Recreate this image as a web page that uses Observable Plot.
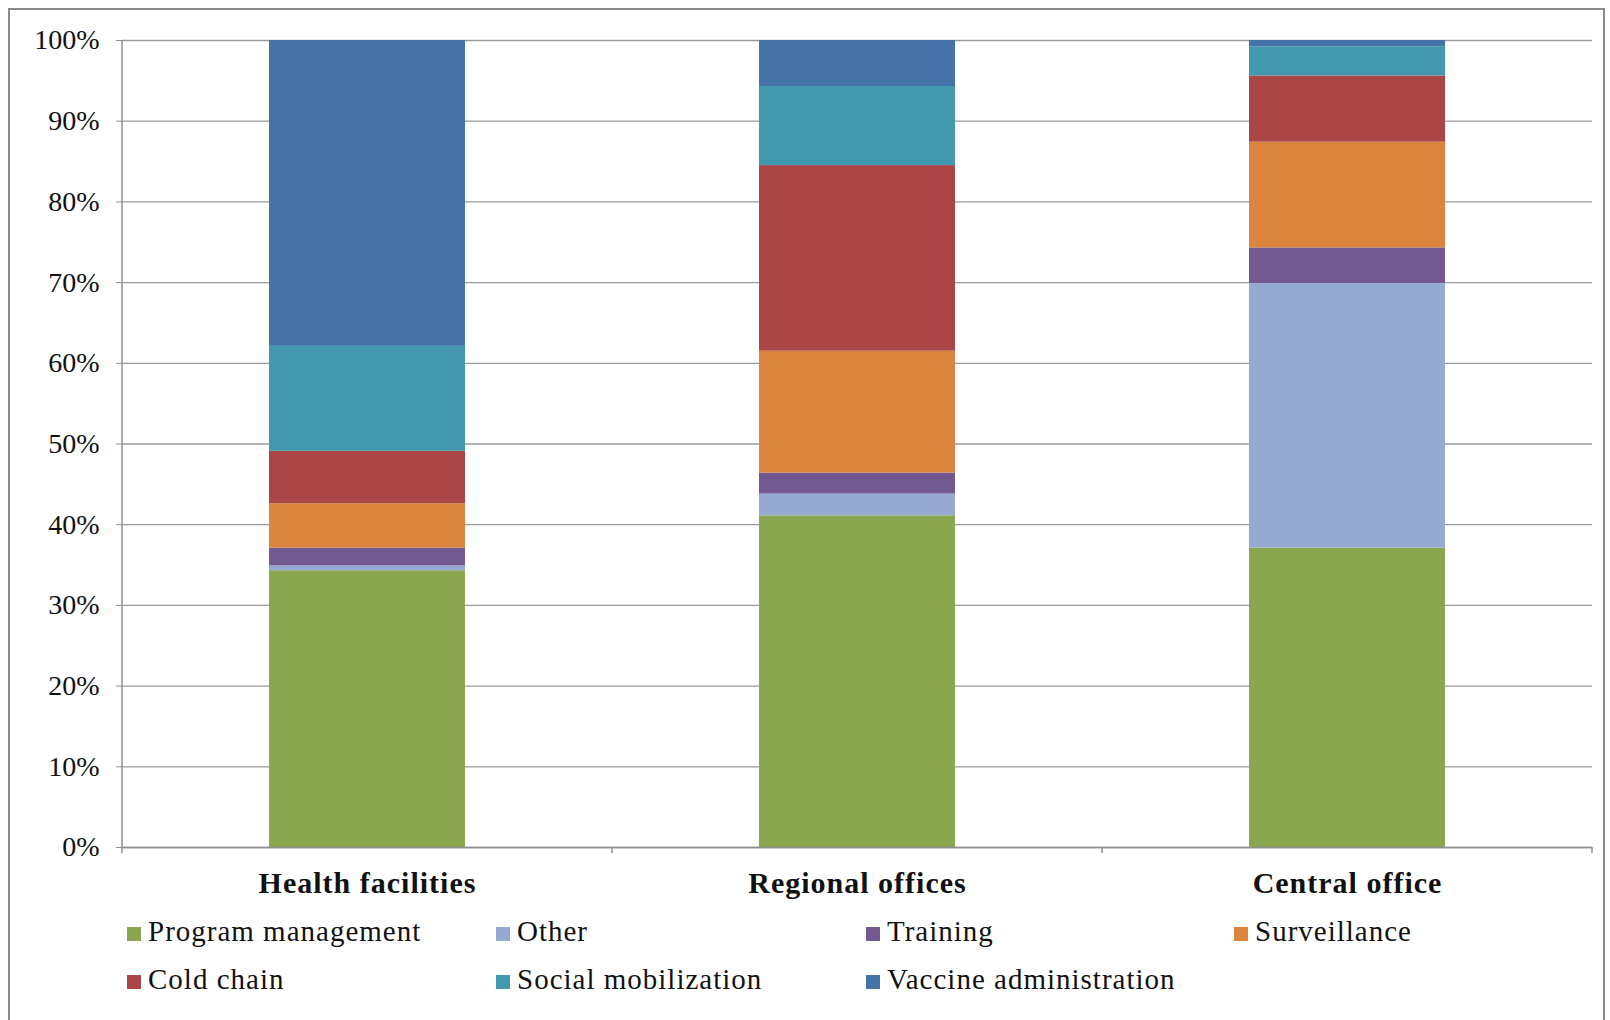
<!DOCTYPE html>
<html>
<head>
<meta charset="utf-8">
<script src="https://cdn.jsdelivr.net/npm/d3@7"></script>
<script src="https://cdn.jsdelivr.net/npm/@observablehq/plot@0.6"></script>
<style>
  html, body { margin: 0; padding: 0; background: #fff; overflow: hidden; }
  #page { position: relative; width: 1610px; height: 1020px; background: #fff; }
  #frame { position: absolute; left: 8px; top: 8px; width: 1597px; height: 1030px; border: 2px solid #8a8a8a; box-sizing: border-box; }
  #chart { position: absolute; left: 0; top: 0; }
  #legend { position: absolute; left: 0; top: 0; width: 1610px; height: 1020px; pointer-events: none;
            font-family: "Liberation Serif", "Times New Roman", serif; font-size: 29px; letter-spacing: 1px; color: #111; }
  .item { position: absolute; line-height: 32px; white-space: nowrap; }
  .sw { display: inline-block; width: 14px; height: 14px; margin-right: 7px; vertical-align: baseline; }
  g[aria-label="x-axis tick label"] text { letter-spacing: 1px; }
</style>
</head>
<body>
<div id="page">
  <div id="frame"></div>
  <div id="chart"></div>
  <div id="legend"></div>
</div>
<script>
// ---- data (percent of each category total) ----
const categories = ["Health facilities", "Regional offices", "Central office"];
const series = ["Program management", "Other", "Training", "Surveillance", "Cold chain", "Social mobilization", "Vaccine administration"];
const colors = ["#8AA64E", "#95A9D1", "#735991", "#DB843E", "#AA4645", "#4298AF", "#4572A7"];

const programManagement     = [34.3, 41.1, 37.1];
const other                 = [0.6, 2.7, 32.8];
const training              = [2.2, 2.6, 4.4];
const surveillance          = [5.5, 15.1, 13.1];
const coldChain             = [6.5, 23.0, 8.2];
const socialMobilization    = [13.0, 9.8, 3.6];
const vaccineAdministration = [37.9, 5.7, 0.8];

const yTicks = [0, 0.1, 0.2, 0.3, 0.4, 0.5, 0.6, 0.7, 0.8, 0.9, 1.0];

const seriesValues = [programManagement, other, training, surveillance, coldChain, socialMobilization, vaccineAdministration];
const rows = [];
series.forEach((s, i) => {
  categories.forEach((c, j) => rows.push({category: c, series: s, value: seriesValues[i][j]}));
});

const W = 1610, H = 910, ML = 122, MR = 18, MT = 40, MB = 63;

const chart = Plot.plot({
  width: W,
  height: H,
  marginLeft: ML,
  marginRight: MR,
  marginTop: MT,
  marginBottom: MB,
  style: {fontFamily: "Liberation Serif, Times New Roman, serif", background: "transparent", color: "#111"},
  x: {domain: categories, paddingInner: 0.6, paddingOuter: 0.3},
  y: {domain: [0, 1]},
  color: {domain: series, range: colors},
  marks: [
    Plot.ruleY(yTicks, {stroke: "#9a9a9a", strokeWidth: 1.3}),
    Plot.barY(rows, Plot.stackY({offset: "normalize", order: null}, {x: "category", y: "value", fill: "series"})),
    Plot.axisY(yTicks, {tickFormat: d3.format(".0%"), tickSize: 6, tickPadding: 17, fontSize: 28, stroke: "#8f8f8f", fill: "#111", label: null}),
    Plot.axisX({tickSize: 0, tickPadding: 24, fontSize: 30, fontWeight: "bold", fill: "#111", label: null}),
    Plot.ruleY([0], {stroke: "#8f8f8f", strokeWidth: 1.5})
  ]
});
document.getElementById("chart").appendChild(chart);

// y-axis line and category-boundary ticks, from the x scale
const sx = chart.scale("x");
const sy = chart.scale("y");
const bw = sx.bandwidth, step = sx.step;
const gap = (step - bw) / 2;
const bounds = categories.map(c => sx.apply(c) - gap).concat([sx.apply(categories[categories.length - 1]) + bw + gap]);
const yBase = sy.apply(0), yTop = sy.apply(1);
const g = d3.select(chart).append("g").attr("stroke", "#8f8f8f").attr("stroke-width", 1.5);
g.append("line").attr("x1", bounds[0]).attr("x2", bounds[0]).attr("y1", yTop).attr("y2", yBase);
g.selectAll("line.b").data(bounds).join("line").attr("class", "b")
  .attr("x1", d => d).attr("x2", d => d).attr("y1", yBase).attr("y2", yBase + 6);

// ---- legend ----
const legendCols = 4;
const colLeft = [127, 496, 866, 1234];
const rowTop = [915, 963];
const legend = document.getElementById("legend");
series.forEach((s, i) => {
  const item = document.createElement("div");
  item.className = "item";
  item.style.left = colLeft[i % legendCols] + "px";
  item.style.top = rowTop[Math.floor(i / legendCols)] + "px";
  const sw = document.createElement("span");
  sw.className = "sw";
  sw.style.background = colors[i];
  item.appendChild(sw);
  item.appendChild(document.createTextNode(s));
  legend.appendChild(item);
});
</script>
</body>
</html>
